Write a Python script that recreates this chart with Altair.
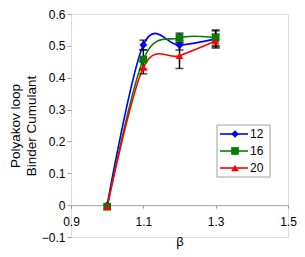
import altair as alt
import pandas as pd

beta = [1.0, 1.1, 1.2, 1.3]
series = ["12", "16", "20"]
vals_12 = [0.000, 0.503, 0.502, 0.522]
vals_16 = [-0.005, 0.457, 0.525, 0.525]
vals_20 = [-0.005, 0.432, 0.469, 0.515]
err_12 = [0.0, 0.015, 0.015, 0.025]
err_16 = [0.0, 0.030, 0.015, 0.025]
err_20 = [0.0, 0.020, 0.040, 0.022]
colors = ["#0000FF", "#008000", "#FF0000"]
shapes = ["diamond", "square", "triangle-up"]
x_ticks = [0.9, 1.1, 1.3, 1.5]
y_ticks = [-0.1, 0, 0.1, 0.2, 0.3, 0.4, 0.5, 0.6]

rows = []
for s, v, e in zip(series, [vals_12, vals_16, vals_20], [err_12, err_16, err_20]):
    for b, vv, ee in zip(beta, v, e):
        rows.append({"beta": b, "value": vv, "lo": vv - ee, "hi": vv + ee, "series": s, "err": ee})
df = pd.DataFrame(rows)
df_err = df[df["err"] > 0]

W, H = 217, 223
FONT = "Liberation Sans"

xs = alt.Scale(domain=[0.9, 1.5], nice=False, zero=False)
ys = alt.Scale(domain=[-0.1, 0.6], nice=False, zero=False)
cs = alt.Scale(domain=series, range=colors)
ss = alt.Scale(domain=series, range=shapes)

x_axis = alt.Axis(values=x_ticks, tickCount=10, format=".1f", grid=False, offset=-H / 7,
                  domainColor="#A0A0A0", domainWidth=1, tickColor="#A0A0A0", tickSize=3,
                  labelPadding=8, labelFontSize=12, labelColor="black", labelFont=FONT,
                  labelOverlap=False, labelFlush=False,
                  title="β", titleFont=FONT, titleFontSize=13, titleFontWeight="normal",
                  titleY=36, titleBaseline="middle", titleColor="black")
y_axis = alt.Axis(values=y_ticks, tickCount=10, grid=False, domain=False, tickColor="#A0A0A0", tickSize=4,
                  labelExpr="datum.value == 0 ? '0' : format(datum.value, '.1f')",
                  labelFontSize=12, labelColor="black", labelFont=FONT, labelPadding=2,
                  labelOverlap=False, labelBound=False, labelFlush=False,
                  title=["Polyakov loop", "Binder Cumulant"], titleFont=FONT, titleFontSize=13.5,
                  titleFontWeight="normal", titleColor="black", titlePadding=3, titleLineHeight=16)

base = alt.Chart(df)
lines = base.mark_line(interpolate="cardinal", tension=0, strokeWidth=1.6).encode(
    x=alt.X("beta:Q", scale=xs, axis=x_axis),
    y=alt.Y("value:Q", scale=ys, axis=y_axis),
    color=alt.Color("series:N", scale=cs, legend=None),
    detail="series:N",
)
ebars = alt.Chart(df_err).mark_rule(color="black", strokeWidth=1.5).encode(
    x="beta:Q", y="lo:Q", y2="hi:Q")
cap_lo = alt.Chart(df_err).mark_tick(color="black", orient="horizontal", size=8, thickness=1.5).encode(
    x="beta:Q", y="lo:Q")
cap_hi = alt.Chart(df_err).mark_tick(color="black", orient="horizontal", size=8, thickness=1.5).encode(
    x="beta:Q", y="hi:Q")
points = base.mark_point(filled=True, opacity=1, size=60).encode(
    x="beta:Q", y="value:Q",
    color=alt.Color("series:N", scale=cs, legend=None),
    shape=alt.Shape("series:N", scale=ss, legend=None),
)

# legend (manual, Excel style)
legend_box = alt.Chart(pd.DataFrame({"a": [0]})).mark_rect(
    fill="white", stroke="#A0A0A0", strokeWidth=1).encode(
    x=alt.value(146), x2=alt.value(199), y=alt.value(111), y2=alt.value(163))
legend_layers = [legend_box]
for i, (s, c, sh) in enumerate(zip(series, colors, shapes)):
    yy = 120 + 17 * i
    d = pd.DataFrame({"s": [s]})
    legend_layers.append(alt.Chart(d).mark_rule(color=c, strokeWidth=1.6).encode(
        x=alt.value(149), x2=alt.value(177), y=alt.value(yy)))
    legend_layers.append(alt.Chart(d).mark_point(filled=True, opacity=1, size=60, color=c, shape=sh).encode(
        x=alt.value(164), y=alt.value(yy)))
    legend_layers.append(alt.Chart(d).mark_text(align="left", baseline="middle", font=FONT, fontSize=12,
                                                color="black").encode(
        x=alt.value(179), y=alt.value(yy), text="s:N"))

chart = alt.layer(lines, ebars, cap_lo, cap_hi, points, *legend_layers).properties(
    width=W, height=H,
    autosize=alt.AutoSizeParams(type="none"),
    padding={"left": 63, "top": 6, "right": 9, "bottom": 12},
).configure_view(stroke="#404040", strokeWidth=2).configure(background="white")

chart.save("out.html", embed_options={"renderer": "svg", "actions": False})
